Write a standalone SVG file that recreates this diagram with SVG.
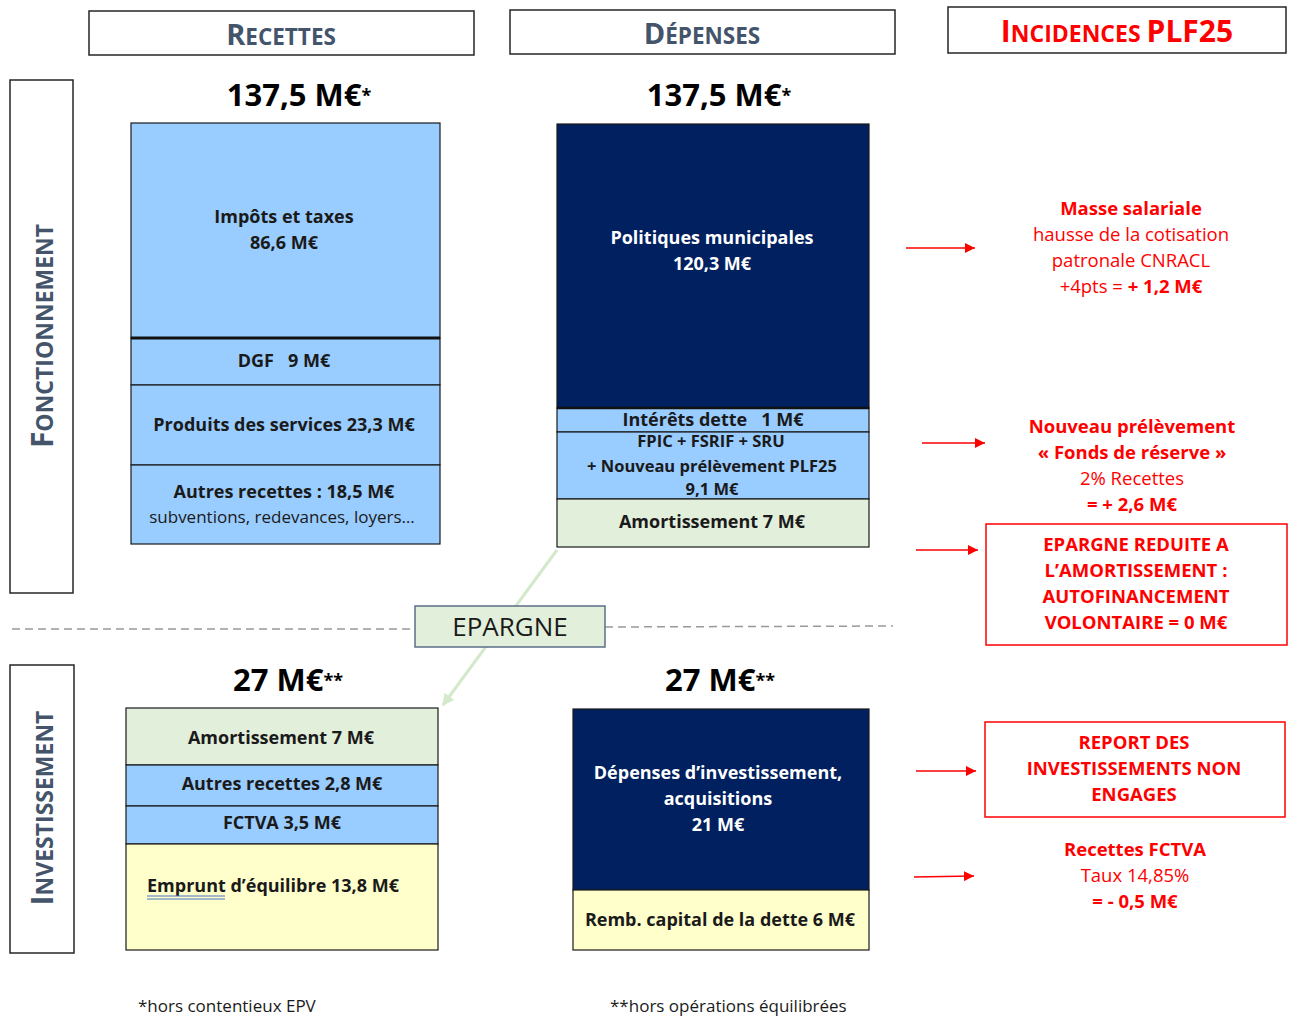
<svg xmlns="http://www.w3.org/2000/svg" width="1290" height="1018" viewBox="0 0 1290 1018">
<defs>
<style>
text{font-family:"Open Sans","Noto Sans","Liberation Sans",sans-serif;}
.hdr{fill:none;stroke:#262626;stroke-width:1.5}
.ht{fill:#44546a;font-weight:bold;text-anchor:middle}
.tot{font-size:31px;font-weight:bold;text-anchor:middle;fill:#000}
.blk{stroke:#1a1a1a;stroke-width:1.2}
.blue{fill:#99ccff}
.navy{fill:#002060}
.green{fill:#e2efda}
.yellow{fill:#ffffcc}
.bt{font-size:18px;font-weight:bold;text-anchor:middle;fill:#1a1a1a}
.wt{font-size:18px;font-weight:bold;text-anchor:middle;fill:#ffffff}
.st{font-size:17px;text-anchor:middle;fill:#1a1a1a}
.rb{font-size:18.5px;font-weight:bold;text-anchor:middle;fill:#ff0000}
.rr{font-size:18.5px;text-anchor:middle;fill:#ff0000}
.rbox{fill:none;stroke:#ff0000;stroke-width:1.5}
.rarr{stroke:#ff0000;stroke-width:1.5;fill:none;marker-end:url(#ra)}
.foot{font-size:17px;fill:#1a1a1a}
</style>
<marker id="ra" viewBox="0 0 10 10" refX="10" refY="5" markerWidth="10" markerHeight="10" markerUnits="userSpaceOnUse" orient="auto"><path d="M0,0 L10,5 L0,10 z" fill="#ff0000"/></marker>
<marker id="ga" viewBox="0 0 10 10" refX="9" refY="5" markerWidth="4" markerHeight="4" orient="auto"><path d="M0,0 L10,5 L0,10 z" fill="#d4e8cc"/></marker>
</defs>
<rect width="1290" height="1018" fill="#ffffff"/>

<g id="hdr-recettes">
<rect class="hdr" x="89" y="11" width="385" height="44"/>
<text class="ht" x="281" y="45"><tspan font-size="29">R</tspan><tspan font-size="22.5">ECETTES</tspan></text>
</g>
<g id="hdr-depenses">
<rect class="hdr" x="510" y="10" width="385" height="44"/>
<text class="ht" x="702" y="44"><tspan font-size="29">D</tspan><tspan font-size="22.5">ÉPENSES</tspan></text>
</g>
<g id="hdr-incidences">
<rect class="hdr" x="948" y="7" width="338" height="46"/>
<text class="ht" x="1117" y="42" style="fill:#ff0000"><tspan font-size="30">I</tspan><tspan font-size="23">NCIDENCES </tspan><tspan font-size="30">PLF25</tspan></text>
</g>

<g id="side-fonctionnement">
<rect class="hdr" x="10" y="80" width="63" height="513"/>
<text class="ht" transform="translate(53,336) rotate(-90)"><tspan font-size="30">F</tspan><tspan font-size="23">ONCTIONNEMENT</tspan></text>
</g>
<g id="side-investissement">
<rect class="hdr" x="10" y="665" width="64" height="288"/>
<text class="ht" transform="translate(53,808) rotate(-90)"><tspan font-size="30">I</tspan><tspan font-size="23">NVESTISSEMENT</tspan></text>
</g>

<g id="totals">
<text class="tot" x="299" y="106">137,5 M€<tspan font-size="18" dy="-4">*</tspan></text>
<text class="tot" x="719" y="106">137,5 M€<tspan font-size="18" dy="-4">*</tspan></text>
<text class="tot" x="288" y="691">27 M€<tspan font-size="18" dy="-4">**</tspan></text>
<text class="tot" x="720" y="691">27 M€<tspan font-size="18" dy="-4">**</tspan></text>
</g>

<g id="connectors">
<line x1="12" y1="629" x2="415" y2="629" stroke="#999999" stroke-width="1.5" stroke-dasharray="8,5"/>
<line x1="605" y1="627" x2="893" y2="626" stroke="#999999" stroke-width="1.5" stroke-dasharray="8,5"/>
<line x1="557" y1="550" x2="443" y2="705" stroke="#d4e8cc" stroke-width="3" marker-end="url(#ga)"/>
<line class="rarr" x1="906" y1="248" x2="975" y2="248"/>
<line class="rarr" x1="922" y1="443" x2="985" y2="443"/>
<line class="rarr" x1="916" y1="550" x2="978" y2="550"/>
<line class="rarr" x1="916" y1="771" x2="976" y2="771"/>
<line class="rarr" x1="914" y1="877" x2="974" y2="876"/>
</g>

<g id="epargne">
<rect x="415" y="606" width="190" height="41" fill="#e2efda" stroke="#5b6f86" stroke-width="1.5"/>
<text x="510" y="636" font-size="26" text-anchor="middle" fill="#1a1a1a">EPARGNE</text>
</g>

<g id="f-impots">
<rect class="blk blue" x="131" y="123" width="309" height="215"/>
<text class="bt" x="284" y="223">Impôts et taxes</text>
<text class="bt" x="284" y="249">86,6 M€</text>
</g>
<g id="f-dgf">
<rect class="blk blue" x="131" y="338" width="309" height="47"/>
<line x1="131" y1="338" x2="440" y2="338" stroke="#111" stroke-width="3"/>
<text class="bt" x="284" y="367" xml:space="preserve">DGF   9 M€</text>
</g>
<g id="f-produits">
<rect class="blk blue" x="131" y="385" width="309" height="80"/>
<text class="bt" x="284" y="431">Produits des services 23,3 M€</text>
</g>
<g id="f-autres">
<rect class="blk blue" x="131" y="465" width="309" height="79"/>
<text class="bt" x="284" y="498">Autres recettes : 18,5 M€</text>
<text class="st" x="282" y="523">subventions, redevances, loyers…</text>
</g>

<g id="d-politiques">
<rect class="blk navy" x="557" y="124" width="312" height="284"/>
<text class="wt" x="712" y="244">Politiques municipales</text>
<text class="wt" x="712" y="270">120,3 M€</text>
</g>
<g id="d-interets">
<rect class="blk blue" x="557" y="408" width="312" height="24"/>
<line x1="557" y1="408" x2="869" y2="408" stroke="#111" stroke-width="2.5"/>
<text class="bt" x="713" y="426" xml:space="preserve">Intérêts dette   1 M€</text>
</g>
<g id="d-fpic">
<rect class="blk blue" x="557" y="432" width="312" height="67"/>
<text class="bt" x="711" y="447" style="font-size:16.5px">FPIC + FSRIF + SRU</text>
<text class="bt" x="712" y="472" style="font-size:16.5px">+ Nouveau prélèvement PLF25</text>
<text class="bt" x="712" y="495" style="font-size:16.5px">9,1 M€</text>
</g>
<g id="d-amort">
<rect class="blk green" x="557" y="499" width="312" height="48"/>
<text class="bt" x="712" y="528">Amortissement 7 M€</text>
</g>

<g id="i-amort">
<rect class="blk green" x="126" y="708" width="312" height="57"/>
<text class="bt" x="281" y="744">Amortissement 7 M€</text>
</g>
<g id="i-autres">
<rect class="blk blue" x="126" y="765" width="312" height="41"/>
<text class="bt" x="282" y="790">Autres recettes 2,8 M€</text>
</g>
<g id="i-fctva">
<rect class="blk blue" x="126" y="806" width="312" height="38"/>
<text class="bt" x="282" y="829">FCTVA 3,5 M€</text>
</g>
<g id="i-emprunt">
<rect class="blk yellow" x="126" y="844" width="312" height="106"/>
<text class="bt" x="147" y="892" style="text-anchor:start">Emprunt d’équilibre 13,8 M€</text>
<line x1="147" y1="896" x2="225" y2="896" stroke="#4472c4" stroke-width="1"/>
<line x1="147" y1="899" x2="225" y2="899" stroke="#4472c4" stroke-width="1"/>
</g>

<g id="i-depenses">
<rect class="blk navy" x="573" y="709" width="296" height="181"/>
<text class="wt" x="718" y="779">Dépenses d’investissement,</text>
<text class="wt" x="718" y="805">acquisitions</text>
<text class="wt" x="718" y="831">21 M€</text>
</g>
<g id="i-remb">
<rect class="blk yellow" x="573" y="890" width="296" height="60"/>
<text class="bt" x="720" y="926">Remb. capital de la dette 6 M€</text>
</g>

<g id="r-masse">
<text class="rb" x="1131" y="215">Masse salariale</text>
<text class="rr" x="1131" y="241">hausse de la cotisation</text>
<text class="rr" x="1131" y="267">patronale CNRACL</text>
<text class="rr" x="1131" y="293">+4pts = <tspan font-weight="bold">+ 1,2 M€</tspan></text>
</g>
<g id="r-fonds">
<text class="rb" x="1132" y="433">Nouveau prélèvement</text>
<text class="rb" x="1132" y="459">« Fonds de réserve »</text>
<text class="rr" x="1132" y="485">2% Recettes</text>
<text class="rb" x="1132" y="511">= + 2,6 M€</text>
</g>
<g id="r-epargne">
<rect class="rbox" x="986" y="524" width="301" height="121"/>
<text class="rb" x="1136" y="551">EPARGNE REDUITE A</text>
<text class="rb" x="1136" y="577">L’AMORTISSEMENT :</text>
<text class="rb" x="1136" y="603">AUTOFINANCEMENT</text>
<text class="rb" x="1136" y="629">VOLONTAIRE = 0 M€</text>
</g>
<g id="r-report">
<rect class="rbox" x="985" y="722" width="300" height="95"/>
<text class="rb" x="1134" y="749">REPORT DES</text>
<text class="rb" x="1134" y="775">INVESTISSEMENTS NON</text>
<text class="rb" x="1134" y="801">ENGAGES</text>
</g>
<g id="r-fctva">
<text class="rb" x="1135" y="856">Recettes FCTVA</text>
<text class="rr" x="1135" y="882">Taux 14,85%</text>
<text class="rb" x="1135" y="908">= - 0,5 M€</text>
</g>

<g id="footnotes">
<text class="foot" x="138" y="1012">*hors contentieux EPV</text>
<text class="foot" x="610" y="1012">**hors opérations équilibrées</text>
</g>
</svg>
